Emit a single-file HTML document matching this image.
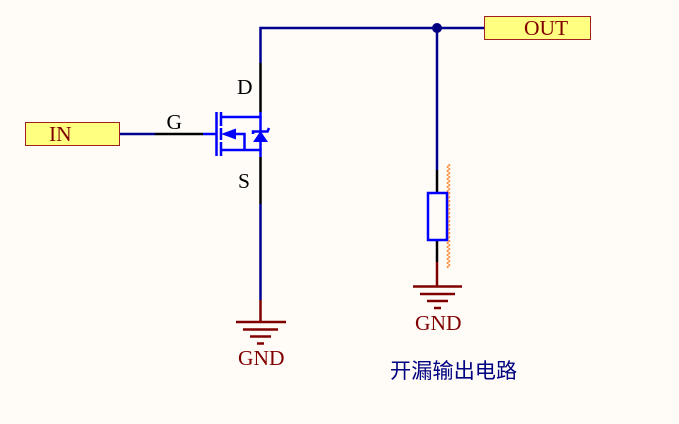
<!DOCTYPE html>
<html>
<head>
<meta charset="utf-8">
<style>
html,body{margin:0;padding:0;background:#fffcf8;}
svg{display:block;}
text{font-family:"Liberation Serif","Noto Sans CJK SC",serif;font-size:21.5px;}
</style>
</head>
<body>
<svg width="679" height="424" viewBox="0 0 679 424" xmlns="http://www.w3.org/2000/svg">
<defs>
<pattern id="w" x="446" y="164" width="5" height="4" patternUnits="userSpaceOnUse">
<path d="M2.500 0Q5 1 2.500 2T2.500 4" fill="none" stroke="#ff9040" stroke-width="1.400"/>
</pattern>
</defs>
<rect width="679" height="424" fill="#fffcf8"/>
<!-- wires -->
<g fill="none" stroke-width="2.500">
<path d="M484.500 28H260.500V63" stroke="#000090"/>
<path d="M437 28V170" stroke="#000090"/>
<path d="M120 134H155" stroke="#000090"/>
<path d="M260.500 204V300" stroke="#000090"/>
<path d="M260.500 63V112" stroke="#000000"/>
<path d="M260.500 157V204" stroke="#000000"/>
<path d="M155 134H203" stroke="#000000"/>
<path d="M437 170V193" stroke="#000000"/>
<path d="M437 240V262" stroke="#000000"/>
</g>
<circle cx="437" cy="28" r="5" fill="#000080"/>
<!-- MOSFET -->
<g fill="none" stroke="#0000ff" stroke-width="2.500">
<path d="M203 134H217"/>
<path d="M216.500 112V156"/>
<path d="M221 112V126M221 128V140M221 142V156"/>
<path d="M221 117H260.500V112"/>
<path d="M221 150H260.500V157"/>
<path d="M236 134H244.500V150"/>
<path d="M260.500 117V150"/>
<path d="M253 134V131.500H267.500L269 128"/>
</g>
<polygon points="221,134 236,128.500 236,139.500" fill="#0000ff"/>
<polygon points="260.500,131 268,142 253,142" fill="#0000ff"/>
<!-- Resistor -->
<rect x="446" y="164" width="5" height="104" fill="url(#w)"/>
<rect x="428" y="193" width="19" height="47" fill="#fffcf8" stroke="#0000ff" stroke-width="2.500"/>
<!-- GND symbols -->
<g stroke="#800000" stroke-width="2.500" fill="none">
<path d="M260.500 300V322M236 322H286M243 329.500H278M250 336.500H271M257 343.500H264"/>
<path d="M437 262V286.500M413 286.500H462M420 294H455M427 301H448M434 308H441"/>
</g>
<!-- Ports -->
<rect x="484.500" y="16.500" width="106" height="23" fill="#ffff80" stroke="#a02020" stroke-width="1"/>
<rect x="25.500" y="122.500" width="94" height="23" fill="#ffff80" stroke="#a02020" stroke-width="1"/>
<!-- Text -->
<text x="524" y="35" fill="#800000">OUT</text>
<text x="49" y="141" fill="#800000">IN</text>
<text x="166.500" y="129" fill="#000000">G</text>
<text x="237" y="94" fill="#000000">D</text>
<text x="238" y="188" fill="#000000">S</text>
<text x="238" y="365" fill="#800000">GND</text>
<text x="415" y="330" fill="#800000">GND</text>
<text x="390" y="378" fill="#000080" style="font-size:21.200px;font-family:'Liberation Sans','Noto Sans CJK SC',sans-serif">开漏输出电路</text>
</svg>
</body>
</html>
